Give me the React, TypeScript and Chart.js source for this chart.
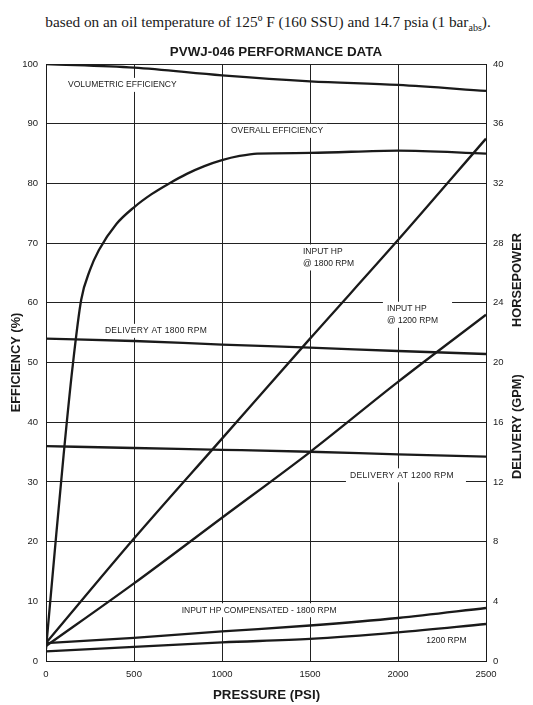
import { useEffect, useRef } from 'react';
import { Chart, registerables } from 'chart.js';

Chart.register(...registerables);

const SANS = '"Liberation Sans", Arial, Helvetica, sans-serif';
const INK = '#1a1a1a';

// axis ticks
const pressureTicks = [0, 500, 1000, 1500, 2000, 2500];
const efficiencyTicks = [0, 10, 20, 30, 40, 50, 60, 70, 80, 90, 100];
const rightTicks = [0, 4, 8, 12, 16, 20, 24, 28, 32, 36, 40];

// pressure steps used by most curves (psi)
const stepPressure = [0, 500, 1000, 1500, 2000, 2500];

// efficiency (%) on the left axis
const volumetricEff = [100, 99.4, 98.1, 97.1, 96.5, 95.5];
const overallPressure = [0, 50, 100, 150, 200, 250, 300, 400, 500, 600, 700, 800, 900, 1000, 1100, 1200, 1500, 2000, 2500];
const overallEff = [2, 18.5, 34.5, 49, 60.5, 65.5, 68.8, 73.2, 76, 78.2, 80, 81.6, 82.9, 83.9, 84.6, 85, 85.1, 85.5, 85];

// horsepower / delivery (GPM) on the right axis
const inputHp1800 = [1.2, 8.2, 14.9, 21.6, 28.2, 35];
const inputHp1200 = [1.0, 5.2, 9.6, 14.0, 18.7, 23.2];
const delivery1800 = [21.6, 21.44, 21.2, 21.0, 20.77, 20.57];
const delivery1200 = [14.4, 14.27, 14.15, 14.02, 13.85, 13.7];
const compHp1800 = [1.2, 1.55, 1.98, 2.38, 2.88, 3.55];
const compHp1200 = [0.65, 0.95, 1.25, 1.48, 1.92, 2.48];

// curve labels, placed in data coordinates (psi, %)
const curveLabels = [
  { text: ['VOLUMETRIC EFFICIENCY'], x: 125, y: 96.5, spacing: 0, extra: 0 },
  { text: ['OVERALL EFFICIENCY'], x: 1051, y: 88.8, spacing: 0, extra: 0 },
  { text: ['INPUT HP', '@ 1800 RPM'], x: 1460, y: 68.6, spacing: 0, extra: 0 },
  { text: ['INPUT HP', '@ 1200 RPM'], x: 1937, y: 59.0, spacing: 0, extra: 10 },
  { text: ['DELIVERY AT 1800 RPM'], x: 335, y: 55.3, spacing: 0.25, extra: 0 },
  { text: ['DELIVERY AT 1200 RPM'], x: 1727, y: 31.1, spacing: 0.35, extra: 8 },
  { text: ['INPUT HP COMPENSATED - 1800 RPM'], x: 771, y: 8.5, spacing: 0, extra: 0 },
  { text: ['1200 RPM'], x: 2161, y: 3.4, spacing: 0, extra: 0 },
];

const pts = (xs: number[], ys: number[]) => xs.map((x, i) => ({ x, y: ys[i] }));

const annotations = {
  id: 'annotations',
  beforeDatasetsDraw(chart: any) {
    const { ctx } = chart;
    const xs = chart.scales.x;
    const ys = chart.scales.y;
    ctx.save();
    ctx.font = `8.5px ${SANS}`;
    ctx.textBaseline = 'middle';
    ctx.textAlign = 'left';
    curveLabels.forEach((l) => {
      ctx.letterSpacing = `${l.spacing}px`;
      const px = xs.getPixelForValue(l.x);
      const py = ys.getPixelForValue(l.y);
      const w = Math.max(...l.text.map((t) => ctx.measureText(t).width));
      const h = (l.text.length - 1) * 12;
      ctx.fillStyle = '#fff';
      ctx.fillRect(px - 4, py - 7, w + 8 + l.extra, h + 14);
      ctx.fillStyle = INK;
      l.text.forEach((t, i) => ctx.fillText(t, px, py + i * 12));
    });
    ctx.restore();
  },
  afterDraw(chart: any) {
    const { ctx } = chart;
    ctx.save();
    ctx.fillStyle = INK;
    ctx.textAlign = 'center';
    ctx.textBaseline = 'alphabetic';
    ctx.font = `bold 13.4px ${SANS}`;
    ctx.fillText('PVWJ-046 PERFORMANCE DATA', 276, 55.5);
    ctx.font = `bold 13.3px ${SANS}`;
    ctx.fillText('PRESSURE (PSI)', 266.5, 699);
    ctx.font = `bold 12.8px ${SANS}`;
    ctx.textBaseline = 'middle';
    const vertical = (text: string, x: number, y: number) => {
      ctx.save();
      ctx.translate(x, y);
      ctx.rotate(-Math.PI / 2);
      ctx.fillText(text, 0, 0);
      ctx.restore();
    };
    vertical('EFFICIENCY (%)', 16.7, 362.5);
    vertical('HORSEPOWER', 517.5, 280);
    vertical('DELIVERY (GPM)', 517.5, 426.7);
    ctx.restore();
  },
};

export default function App() {
  const chartRef = useRef<HTMLCanvasElement>(null);

  useEffect(() => {
    if (!chartRef.current) return;

    const line = (label: string, data: any[], axis: string) => ({
      label,
      data,
      yAxisID: axis,
      borderColor: INK,
      borderWidth: 2.3,
      pointRadius: 0,
      fill: false,
      cubicInterpolationMode: 'monotone' as const,
    });

    const tickFont = { family: SANS, size: 9.5 };
    const plain = (v: any) => String(v);

    const chart = new Chart(chartRef.current, {
      type: 'line',
      data: {
        datasets: [
          line('Volumetric efficiency', pts(stepPressure, volumetricEff), 'y'),
          line('Overall efficiency', pts(overallPressure, overallEff), 'y'),
          line('Input HP @ 1800 RPM', pts(stepPressure, inputHp1800), 'y1'),
          line('Input HP @ 1200 RPM', pts(stepPressure, inputHp1200), 'y1'),
          line('Delivery at 1800 RPM', pts(stepPressure, delivery1800), 'y1'),
          line('Delivery at 1200 RPM', pts(stepPressure, delivery1200), 'y1'),
          line('Input HP compensated - 1800 RPM', pts(stepPressure, compHp1800), 'y1'),
          line('Input HP compensated - 1200 RPM', pts(stepPressure, compHp1200), 'y1'),
        ],
      },
      options: {
        responsive: false,
        animation: false,
        layout: { padding: { top: 64, left: 0, right: 0, bottom: 0 } },
        plugins: {
          legend: { display: false },
          tooltip: { enabled: false },
          title: { display: false },
        },
        scales: {
          x: {
            type: 'linear',
            min: 0,
            max: 2500,
            afterBuildTicks: (axis: any) => {
              axis.ticks = pressureTicks.map((value) => ({ value }));
            },
            afterFit: (axis: any) => {
              axis.height = 44;
            },
            ticks: { color: INK, font: tickFont, padding: 8, maxRotation: 0, callback: plain },
            grid: { color: '#222', lineWidth: 1, drawTicks: false },
            border: { color: INK, width: 1 },
          },
          y: {
            type: 'linear',
            position: 'left',
            min: 0,
            max: 100,
            afterBuildTicks: (axis: any) => {
              axis.ticks = efficiencyTicks.map((value) => ({ value }));
            },
            afterFit: (axis: any) => {
              axis.width = 46;
            },
            ticks: { color: INK, font: tickFont, padding: 8, callback: plain },
            grid: { color: '#222', lineWidth: 1, drawTicks: false },
            border: { color: INK, width: 1 },
          },
          y1: {
            type: 'linear',
            position: 'right',
            min: 0,
            max: 40,
            afterBuildTicks: (axis: any) => {
              axis.ticks = rightTicks.map((value) => ({ value }));
            },
            afterFit: (axis: any) => {
              axis.width = 47;
            },
            ticks: { color: INK, font: tickFont, padding: 7, callback: plain },
            grid: { display: false, drawTicks: false },
            border: { color: INK, width: 1 },
          },
        },
      },
      plugins: [annotations],
    });

    return () => chart.destroy();
  }, []);

  return (
    <div style={{ position: 'absolute', left: 0, top: 0, width: 533, height: 705, background: '#fff' }}>
      <div
        style={{
          position: 'absolute',
          left: 0,
          top: 14,
          width: 536,
          textAlign: 'center',
          font: '15.3px "Liberation Serif", "Times New Roman", serif',
          lineHeight: '15px',
          color: INK,
          whiteSpace: 'nowrap',
        }}
      >
        based on an oil temperature of 125º F (160 SSU) and 14.7 psia (1 bar
        <sub style={{ fontSize: '10px', lineHeight: 0 }}>abs</sub>).
      </div>
      <canvas
        ref={chartRef}
        width={533}
        height={705}
        style={{ position: 'absolute', left: 0, top: 0, width: 533, height: 705 }}
      />
    </div>
  );
}
